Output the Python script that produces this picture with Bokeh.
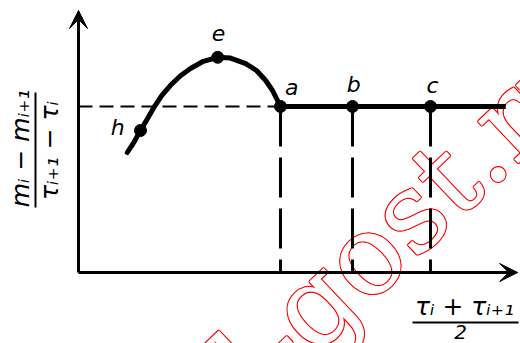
import math
from bokeh.plotting import figure
from bokeh.models import Range1d, Arrow, VeeHead
from bokeh.core.properties import value
from bokeh.embed import file_html
from bokeh.resources import INLINE

# Curve h -> e -> a
curve_x = [1.22, 1.40, 1.55, 1.72, 1.88, 2.08, 2.30, 2.55, 2.80, 3.10, 3.48, 3.80, 4.18, 4.45, 4.68, 4.85, 4.95, 5.05]
curve_y = [3.00, 3.28, 3.55, 3.84, 4.12, 4.42, 4.68, 4.92, 5.10, 5.27, 5.38, 5.36, 5.22, 5.05, 4.80, 4.55, 4.35, 4.15]

level = 4.15
plateau_end = 10.68
x_axis_end = 10.98
y_axis_end = 6.55

# Marked points
pt_names = ["h", "e", "a", "b", "c"]
pt_x = [1.55, 3.48, 5.05, 6.85, 8.80]
pt_y = [3.55, 5.38, level, level, level]
lab_x = [0.98, 3.50, 5.33, 6.88, 8.85]
lab_y = [3.62, 5.98, 4.63, 4.70, 4.68]

# Dashed verticals from a, b, c
vert_x = [5.05, 6.85, 8.80]

y_num = "mᵢ − mᵢ₊₁"
y_den = "τᵢ₊₁ − τᵢ"
x_num = "τᵢ + τᵢ₊₁"
x_den = "2"
watermark = "l-gost.ru"
wm_x, wm_y = 8.2, 1.42

p = figure(width=520, height=343, output_backend="svg", toolbar_location=None,
           x_range=Range1d(-1.95, 11.05), y_range=Range1d(-1.775, 6.8),
           min_border=0, outline_line_color=None)
p.xaxis.visible = False
p.yaxis.visible = False
p.grid.visible = False
p.background_fill_color = "white"
p.border_fill_color = "white"

# watermark: hollow red letters (red copies shifted by 1px, white copy on top)
offs = [(-1, 0), (1, 0), (0, -1), (0, 1), (-0.8, -0.8), (0.8, 0.8), (-0.8, 0.8), (0.8, -0.8)]
wm_style = dict(angle=0.76, text_font=value("DejaVu Serif"), text_font_size="112px",
                text_align="center", text_baseline="middle")
p.text([wm_x] * len(offs), [wm_y] * len(offs), text=[watermark] * len(offs),
       x_offset=[o[0] for o in offs], y_offset=[o[1] for o in offs],
       text_color="red", **wm_style)
p.text([wm_x], [wm_y], text=[watermark], text_color="white", **wm_style)

# axes with arrows
p.add_layout(Arrow(end=VeeHead(size=18, fill_color="black", line_color="black"),
                   x_start=0, y_start=0, x_end=0, y_end=y_axis_end,
                   line_width=3, line_color="black"))
p.add_layout(Arrow(end=VeeHead(size=18, fill_color="black", line_color="black"),
                   x_start=0, y_start=0, x_end=x_axis_end, y_end=0,
                   line_width=3, line_color="black"))

# dashed horizontal level line from the y axis to a
p.line([0, vert_x[0]], [level, level], line_color="black", line_width=2, line_dash="14 7")
# dashed verticals
p.segment(x0=vert_x, y0=[level] * 3, x1=vert_x, y1=[0] * 3,
          line_color="black", line_width=3, line_dash="40 11")

# curve and plateau
p.line(curve_x, curve_y, line_color="black", line_width=5, line_join="round", line_cap="round")
p.line([vert_x[0], plateau_end], [level, level], line_color="black", line_width=5)

p.scatter(pt_x, pt_y, size=12, color="black")

p.text(lab_x, lab_y, text=pt_names, text_font=value("DejaVu Sans"), text_font_style="italic",
       text_font_size="22px", text_align="center", text_baseline="middle", text_color="black")

# y axis label (fraction, rotated)
p.text([-1.45], [3.1], text=[y_num], angle=math.pi / 2, text_font=value("DejaVu Sans"),
       text_font_style="italic", text_font_size="25px", text_align="center", text_baseline="middle")
p.line([-1.075, -1.075], [1.625, 4.5], line_color="black", line_width=2)
p.text([-0.72], [3.05], text=[y_den], angle=math.pi / 2, text_font=value("DejaVu Sans"),
       text_font_style="italic", text_font_size="25px", text_align="center", text_baseline="middle")

# x axis label (fraction)
p.text([9.65], [-0.85], text=[x_num], text_font=value("DejaVu Sans"),
       text_font_style="italic", text_font_size="25px", text_align="center", text_baseline="middle")
p.line([8.35, 11.0], [-1.25, -1.25], line_color="black", line_width=2)
p.text([9.55], [-1.48], text=[x_den], text_font=value("DejaVu Sans"),
       text_font_style="italic", text_font_size="20px", text_align="center", text_baseline="middle")

open("out.html", "w").write(file_html(p, INLINE))
